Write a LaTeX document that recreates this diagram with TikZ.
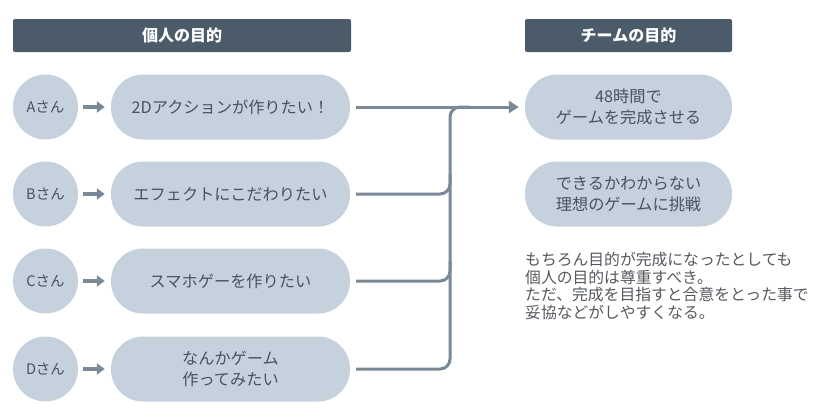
\documentclass[tikz,border=0pt]{standalone}
\usepackage{fontspec}
\setmainfont{Noto Sans CJK JP}
\usetikzlibrary{arrows.meta}
\definecolor{headbg}{HTML}{4B5B6A}
\definecolor{pillbg}{HTML}{C5D1DC}
\definecolor{linegray}{HTML}{7A8998}
\definecolor{textgray}{HTML}{48535E}
\definecolor{notegray}{HTML}{55595E}

\begin{document}
\begin{tikzpicture}[x=1pt,y=-1pt,
    header/.style={fill=headbg, rounded corners=2pt, minimum height=33pt, inner sep=0pt,
        text=white, font=\fontsize{16}{18}\selectfont\bfseries},
    person/.style={circle, fill=pillbg, minimum size=65pt, inner sep=0pt,
        text=textgray, font=\fontsize{14.5}{16}\selectfont},
    pill/.style={rectangle, fill=pillbg, rounded corners=32pt, minimum height=65pt, inner sep=0pt,
        align=center, text=textgray, font=\fontsize{16.2}{21.5}\selectfont},
    stepline/.style={draw=linegray, line width=3.2pt, -{Triangle[length=8pt,width=11pt]},
        shorten <=5pt, shorten >=6pt},
    conn/.style={draw=linegray, line width=3pt, rounded corners=10pt},
    goalarrow/.style={conn, -{Triangle[length=10pt,width=12pt]}, shorten >=6pt}
]
    \useasboundingbox (0,0) rectangle (837,418);

    \node[header, minimum width=338pt] (hMine) at (182,35.5) {個人の目的};
    \node[header, minimum width=207pt] (hTeam) at (628.5,35.5) {チームの目的};

    \node[person] (pA) at (45.5,107) {Aさん};
    \node[person] (pB) at (45.5,194) {Bさん};
    \node[person] (pC) at (45.5,281) {Cさん};
    \node[person] (pD) at (45.5,369) {Dさん};

    \node[pill, minimum width=239pt] (wA) at (230.5,107) {2Dアクションが作りたい！};
    \node[pill, minimum width=239pt] (wB) at (230.5,194) {エフェクトにこだわりたい};
    \node[pill, minimum width=239pt] (wC) at (230.5,281) {スマホゲーを作りたい};
    \node[pill, minimum width=239pt] (wD) at (230.5,369) {なんかゲーム\\作ってみたい};

    \node[pill, minimum width=207pt] (tMain) at (628.5,107) {48時間で\\ゲームを完成させる};
    \node[pill, minimum width=207pt] (tDream) at (628.5,194) {できるかわからない\\理想のゲームに挑戦};

    \node[anchor=west, align=left, inner sep=0pt, text=notegray,
        font=\fontsize{15.8}{17.5}\selectfont] (note) at (525,286)
        {もちろん目的が完成になったとしても\\個人の目的は尊重すべき。\\ただ、完成を目指すと合意をとった事で\\妥協などがしやすくなる。};

    \coordinate (mTop) at (450,107);
    \coordinate (mBot) at (450,369);

    \draw[stepline] (pA) -- (wA);
    \draw[stepline] (pB) -- (wB);
    \draw[stepline] (pC) -- (wC);
    \draw[stepline] (pD) -- (wD);

    \draw[goalarrow, shorten <=6pt] (wA.east) -- (tMain.west);
    \draw[conn, shorten <=6pt] (wD.east) -- (mBot) -- (mTop) -- ++(20,0);
    \draw[conn, shorten <=6pt] (wB.east) -- (450,194) -- ++(0,-20);
    \draw[conn, shorten <=6pt] (wC.east) -- (450,281) -- ++(0,-20);
\end{tikzpicture}
\end{document}
